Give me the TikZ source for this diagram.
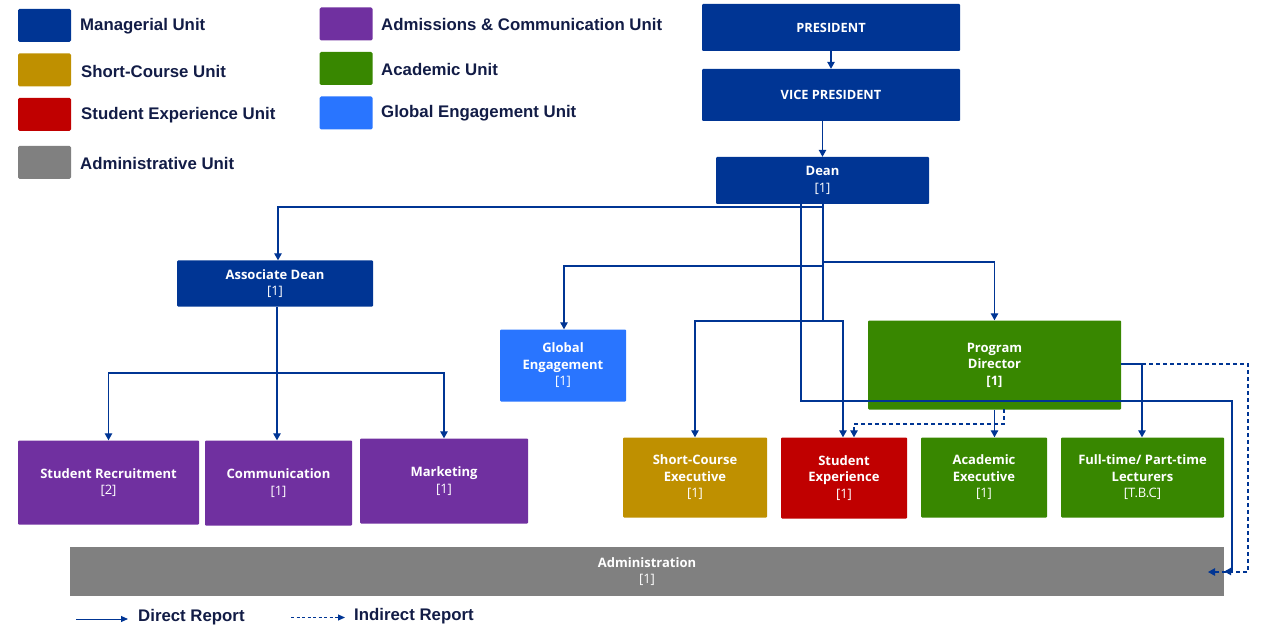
\documentclass[tikz,border=0pt]{standalone}
\usepackage{fontspec}
\setmainfont{Open Sans}
\newfontfamily\legfont{Liberation Sans}
\usetikzlibrary{arrows.meta,calc}
\definecolor{mgr}{RGB}{0,53,148}
\definecolor{scu}{RGB}{191,144,0}
\definecolor{seu}{RGB}{192,0,0}
\definecolor{adm}{RGB}{128,128,128}
\definecolor{acu}{RGB}{112,48,160}
\definecolor{aca}{RGB}{56,135,0}
\definecolor{gle}{RGB}{41,117,255}
\definecolor{lnk}{RGB}{0,53,148}
\definecolor{legtxt}{RGB}{18,28,70}
\tikzset{
  unit/.style={rectangle, inner sep=0pt, text=white, align=center,
    font=\fontsize{13}{16.5}\selectfont, rounded corners=1pt},
  legsq/.style={rectangle, inner sep=0pt, minimum width=53pt, minimum height=33pt, rounded corners=1.5pt},
  legtext/.style={anchor=west, inner sep=0pt, text=legtxt, font=\legfont\bfseries\fontsize{16.8}{18}\selectfont},
  link/.style={draw=lnk, line width=1.2pt, -{Triangle[length=7pt,width=7.5pt]}},
  ilink/.style={link, dashed, dash pattern=on 4pt off 3pt},
  plain/.style={draw=lnk, line width=1.2pt},
}
\begin{document}
\begin{tikzpicture}[x=1pt,y=-1pt]
\useasboundingbox (0,0) rectangle (1264,631);
% legend
\node[legsq, fill=mgr] (l1) at (44.5,25.5) {};
\node[legtext] (t1) at (80,26.5) {Managerial Unit};
\node[legsq, fill=scu] (l2) at (44.5,70) {};
\node[legtext] (t2) at (81,71) {Short-Course Unit};
\node[legsq, fill=seu] (l3) at (44.5,114.5) {};
\node[legtext] (t3) at (81,115) {Student Experience Unit};
\node[legsq, fill=adm] (l4) at (44.5,162.5) {};
\node[legtext] (t4) at (80,163) {Administrative Unit};
\node[legsq, fill=acu] (l5) at (346,24) {};
\node[legtext] (t5) at (381,24.5) {Admissions \& Communication Unit};
\node[legsq, fill=aca] (l6) at (346,68.5) {};
\node[legtext] (t6) at (381,69.5) {Academic Unit};
\node[legsq, fill=gle] (l7) at (346,113) {};
\node[legtext] (t7) at (381,113.5) {Global Engagement Unit};

% units
\node[unit, fill=mgr, minimum width=258pt, minimum height=47pt, font=\bfseries\fontsize{12.8}{14}\selectfont] (pres) at (831,27.5) {PRESIDENT};
\node[unit, fill=mgr, minimum width=258pt, minimum height=52pt, font=\bfseries\fontsize{12.8}{14}\selectfont] (vp) at (831,95) {VICE PRESIDENT};
\node[unit, fill=mgr, minimum width=213pt, minimum height=47pt] (dean) at (822.5,180.5) {\textbf{Dean}\\{[1]}};
\node[unit, fill=mgr, minimum width=196pt, minimum height=46pt] (assoc) at (275,283.5) {\textbf{Associate Dean}\\{[1]}};
\node[unit, fill=gle, minimum width=126pt, minimum height=72pt] (glob) at (563,365.5) {\textbf{Global}\\\textbf{Engagement}\\{[1]}};
\node[unit, fill=aca, minimum width=253pt, minimum height=89pt] (pd) at (994.5,365) {\textbf{Program}\\\textbf{Director}\\\textbf{[1]}};
\node[unit, fill=acu, minimum width=181pt, minimum height=84pt] (sr) at (108.5,482.5) {\textbf{Student Recruitment}\\{[2]}};
\node[unit, fill=acu, minimum width=147pt, minimum height=85pt] (comm) at (278.5,483) {\textbf{Communication}\\{[1]}};
\node[unit, fill=acu, minimum width=168pt, minimum height=85pt] (mkt) at (444,481) {\textbf{Marketing}\\{[1]}};
\node[unit, fill=scu, minimum width=144pt, minimum height=80pt] (sce) at (695,477.5) {\textbf{Short-Course}\\\textbf{Executive}\\{[1]}};
\node[unit, fill=seu, minimum width=126pt, minimum height=81pt] (se) at (844,478) {\textbf{Student}\\\textbf{Experience}\\{[1]}};
\node[unit, fill=aca, minimum width=126pt, minimum height=80pt] (ae) at (984,477.5) {\textbf{Academic}\\\textbf{Executive}\\{[1]}};
\node[unit, fill=aca, minimum width=163pt, minimum height=80pt] (ft) at (1142.5,477.5) {\textbf{Full-time/ Part-time}\\\textbf{Lecturers}\\{[T.B.C]}};
\node[unit, fill=adm, minimum width=1154pt, minimum height=49pt, rounded corners=0pt] (admin) at (647,571.5) {\textbf{Administration}\\{[1]}};

% connectors
\draw[link] (pres.south) -- (vp.north);
\draw[link] (vp.south -| dean.north) -- (dean.north);
\coordinate (dA) at (823,207);
\coordinate (dG) at (823,266);
\coordinate (dP) at (823,262);
\coordinate (dS) at (823,321);
\draw[plain] (dean.south -| dA) -- (dS);
\draw[link] (dA) -| ($(assoc.north)+(3,0)$);
\draw[link] (dG) -| ($(glob.north)+(1,0)$);
\draw[link] (dP) -| (pd.north);
\draw[link] (dS) -| (sce.north);
\draw[link] (dS) -| ($(se.north)+(-1,0)$);
\coordinate (dX) at (801,401);
\coordinate (dY) at (1232,401);
\draw[link] (dean.south -| dX) -- (dX) -- (dY) |- (admin.east);
% associate dean
\coordinate (aL) at (277,373);
\draw[plain] (aL |- assoc.south) -- (aL);
\draw[link] (aL) -| (sr.north);
\draw[link] (aL) -- (aL |- comm.north);
\draw[link] (aL) -| (mkt.north);
% program director
\draw[link] (pd.south) -- (pd.south |- ae.north);
\coordinate (pdd) at (1004,409);
\coordinate (pdk) at (1004,424);
\coordinate (sek) at (854,424);
\draw[ilink] (pdd) -- (pdk) -- (sek) -- (sek |- se.north);
\coordinate (pr) at (1142,364);
\draw[link] (pd.east |- pr) -- (pr) -- (pr |- ft.north);
\coordinate (pq) at (1248,364);
\coordinate (pz) at (1248,572);
\coordinate (pe) at (1208,572);
\draw[ilink] (pr) -- (pq) -- (pz) -- (pe);

% bottom legend
\coordinate (dr1) at (76,619);
\coordinate (dr2) at (128,619);
\draw[draw=lnk, line width=1pt, -{Triangle[length=7pt,width=6pt]}] (dr1) -- (dr2);
\node[legtext] (dtx) at (138,617) {Direct Report};
\coordinate (ir1) at (291,617.5);
\coordinate (ir2) at (345,617.5);
\draw[draw=lnk, line width=1pt, dash pattern=on 3pt off 2.5pt, -{Triangle[length=7pt,width=6pt]}] (ir1) -- (ir2);
\node[legtext] (itx) at (354,616) {Indirect Report};
\end{tikzpicture}
\end{document}
